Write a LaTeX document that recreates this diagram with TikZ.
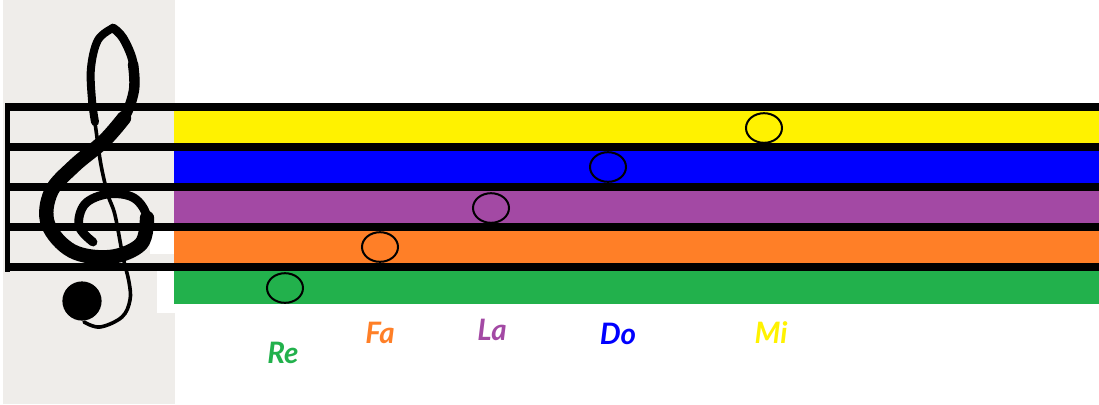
\documentclass[tikz,border=0pt]{standalone}
\usepackage{fontspec}
\usepackage{tikz}
\usetikzlibrary{shapes}
\newfontfamily\solfafont{Lato}
\definecolor{clefpaper}{HTML}{EFEDEA}
\definecolor{miyellow}{HTML}{FFF200}
\definecolor{doblue}{HTML}{0000FF}
\definecolor{lapurple}{HTML}{A349A4}
\definecolor{faorange}{HTML}{FF7F27}
\definecolor{regreen}{HTML}{22B14C}
\tikzstyle{staffline} = [draw, line width=0.2cm]
\tikzstyle{note} = [ellipse, draw, line width=0.05cm, minimum width=0.9cm,
    minimum height=0.74cm, inner sep=0pt]
\tikzstyle{solfa} = [font=\solfafont\bfseries\itshape\fontsize{21}{24}\selectfont, inner sep=0pt]
\tikzstyle{clef} = [draw, line cap=round, line join=round]

\begin{document}
\begin{tikzpicture}[x=0.025cm, y=-0.025cm]
  \useasboundingbox (0,0) rectangle (1099,404);
  \fill[clefpaper] (3,0) rectangle (175,404);
  \fill[white] (150,230) rectangle (175,254);
  \fill[white] (157,270) rectangle (175,313);
  % colour bands
  \fill[miyellow] (174,107) rectangle (1099,147);
  \fill[doblue] (174,147) rectangle (1099,187);
  \fill[lapurple] (174,187) rectangle (1099,227);
  \fill[faorange] (174,227) rectangle (1099,267);
  \fill[regreen] (174,267) rectangle (1099,304);
  \foreach \y in {107,147,187,227,267}
    \path[staffline] (5,\y) -- (1099,\y);
  \draw[line width=0.13cm] (7.5,103) -- (7.5,272);
  % treble clef
  \path[clef, line width=0.09cm] plot[smooth, tension=0.6] coordinates {(113,28) (98,40) (91,68) (92,100) (96,130)
    (101,165) (108,195) (115,215) (123,257) (129,282) (130,300) (122,317) (100,327) (84,322)};
  \path[clef, line width=0.2cm] plot[smooth, tension=0.6] coordinates {(113,28) (98,40) (91,68) (92,100) (95,122)};
  \path[clef, line width=0.22cm] plot[smooth, tension=0.6] coordinates {(93,242) (79,226) (85,204) (108,194)
    (134,198) (147,218) (141,244) (110,257) (72,251) (48,224) (51,192) (74,166) (104,141) (124,118)
    (134,90) (133,62) (123,38) (113,28)};
  \path[clef, line width=0.36cm] plot[smooth, tension=0.6] coordinates {(147,218) (141,244) (110,257)
    (72,251) (48,224) (51,192) (74,166) (104,141) (124,118)};
  \path[clef, line width=0.26cm] plot[smooth, tension=0.6] coordinates {(104,141) (124,118) (134,90) (133,64)};
  \fill (82,301) circle (0.49cm);
  % notes
  \node[note] (re) at (285,288) {};
  \node[note] (fa) at (380,247) {};
  \node[note] (la) at (491,208) {};
  \node[note] (do) at (608,167) {};
  \node[note] (mi) at (764,128) {};
  \node[solfa, text=regreen] (re-name) at (283,353) {Re};
  \node[solfa, text=faorange] (fa-name) at (380,333) {Fa};
  \node[solfa, text=lapurple] (la-name) at (492,330) {La};
  \node[solfa, text=doblue] (do-name) at (618,334) {Do};
  \node[solfa, text=miyellow] (mi-name) at (771,333) {Mi};
\end{tikzpicture}
\end{document}
